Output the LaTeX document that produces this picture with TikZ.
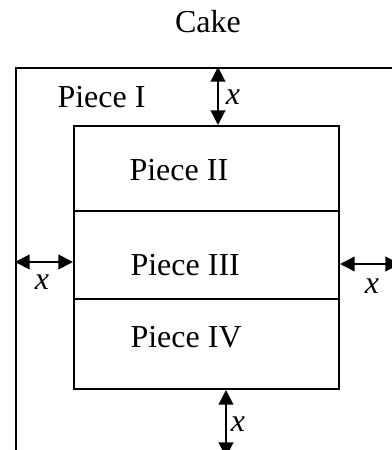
\documentclass[tikz,border=0pt]{standalone}
\usepackage{fontspec}
\setmainfont{Liberation Serif}
\usetikzlibrary{arrows.meta}
\newcommand{\CakePx}{0.375pt}

\begin{document}
\begin{tikzpicture}[x=\CakePx, y=-\CakePx,
                    edge/.style = { line width=0.75pt },
                    piece/.style = { edge, draw, inner sep=0pt, minimum width=265*\CakePx, anchor=north west },
                    gap/.style = { edge, {Triangle[length=5.5pt,width=5.5pt]}-{Triangle[length=5.5pt,width=5.5pt]} },
                    txt/.style = { inner sep=0pt, font=\fontsize{12pt}{14pt}\selectfont },
                    var/.style = { txt, font=\fontsize{12pt}{14pt}\selectfont\itshape }]

  \useasboundingbox (0,0) rectangle (392,450);
  \clip (0,0) rectangle (392,450);

  \node[txt] (title) at(208, 22) {Cake};

  \node[edge, draw, inner sep=0pt, minimum width=383*\CakePx, minimum height=388*\CakePx,
        anchor=north west] (cake) at(15, 67) {};

  \node[piece, minimum height=85*\CakePx] (piece2) at(73, 125) {};
  \node[piece, minimum height=88*\CakePx] (piece3) at(73, 210) {};
  \node[piece, minimum height=90*\CakePx] (piece4) at(73, 298) {};

  \node[txt, anchor=west] at(57, 97)   {Piece I};
  \node[txt, anchor=west] at(129, 170) {Piece II};
  \node[txt, anchor=west] at(130, 265) {Piece III};
  \node[txt, anchor=west] at(130, 337) {Piece IV};

  \coordinate (topx) at(218, 0);
  \coordinate (botx) at(226, 0);
  \coordinate (lefty) at(0, 262);
  \coordinate (righty) at(0, 264);

  \draw [gap] (cake.north -| topx) -- (piece2.north -| topx);
  \draw [gap] (piece4.south -| botx) -- (cake.south -| botx);
  \draw [gap] (cake.west |- lefty) -- (piece3.west |- lefty);
  \draw [gap] (piece3.east |- righty) -- (cake.east |- righty);

  \node[var] at(233, 97)  {x};
  \node[var] at(42, 282)  {x};
  \node[var] at(372, 286) {x};
  \node[var] at(238, 424) {x};
\end{tikzpicture}
\end{document}
